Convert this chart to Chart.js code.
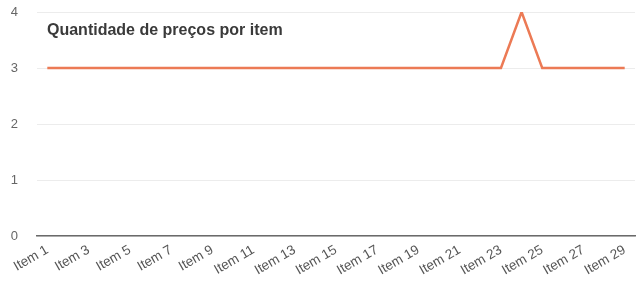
<!DOCTYPE html>
<html><head><meta charset="utf-8">
<script src="https://cdn.jsdelivr.net/npm/chart.js@4"></script>
<style>html,body{margin:0;padding:0;background:#fff}#w{width:643px;height:288px}</style>
</head><body><div id="w"><canvas id="c"></canvas></div>
<script>
const categories = Array.from({length:29},(_,i)=>'Item '+(i+1));
const values = [3,3,3,3,3,3,3,3,3,3,3,3,3,3,3,3,3,3,3,3,3,3,3,4,3,3,3,3,3];
const yTicks = [0,1,2,3,4];
const chartTitle = 'Quantidade de preços por item';

const titlePlugin = {
  id:'inTitle',
  afterDraw(chart){
    const {ctx, chartArea} = chart;
    ctx.save();
    ctx.font = 'bold 16px "Liberation Sans", Arial, sans-serif';
    ctx.fillStyle = '#3a3a3a';
    ctx.textBaseline = 'middle';
    ctx.fillText(chartTitle, chartArea.left + 10, 31);
    ctx.restore();
  }
};

new Chart(document.getElementById('c'), {
  type:'line',
  data:{labels:categories, datasets:[{data:values, borderColor:'#ec7a55', borderWidth:2.5, pointRadius:0, pointHitRadius:0, pointHoverRadius:0, tension:0, fill:false}]},
  options:{
    responsive:true, maintainAspectRatio:false, animation:false,
    layout:{autoPadding:false, padding:{left:0, right:8, top:12, bottom:0}},
    plugins:{legend:{display:false}, tooltip:{enabled:false}},
    scales:{
      x:{
        offset:true,
        afterFit:(s)=>{s.height = 52; s.paddingLeft = 0; s.paddingRight = 0;},
        grid:{display:false, drawTicks:false},
        border:{display:true, color:'#6a6a6a', width:1.5},
        ticks:{autoSkip:false, minRotation:30, maxRotation:30, padding:6, color:'#555',
          font:{family:'"Liberation Sans", Arial, sans-serif', size:13.5},
          callback:(v,i)=> i%2===0 ? categories[i] : ''}
      },
      y:{
        min:0, max:4,
        afterFit:(s)=>{s.width = 37; s.paddingTop = 0; s.paddingBottom = 0;},
        afterBuildTicks:(s)=>{s.ticks = yTicks.map(v=>({value:v}));},
        grid:{color:'#ececec', drawTicks:false},
        border:{display:false},
        ticks:{padding:19, color:'#666', font:{family:'"Liberation Sans", Arial, sans-serif', size:13}}
      }
    }
  },
  plugins:[titlePlugin]
});
</script></body></html>
